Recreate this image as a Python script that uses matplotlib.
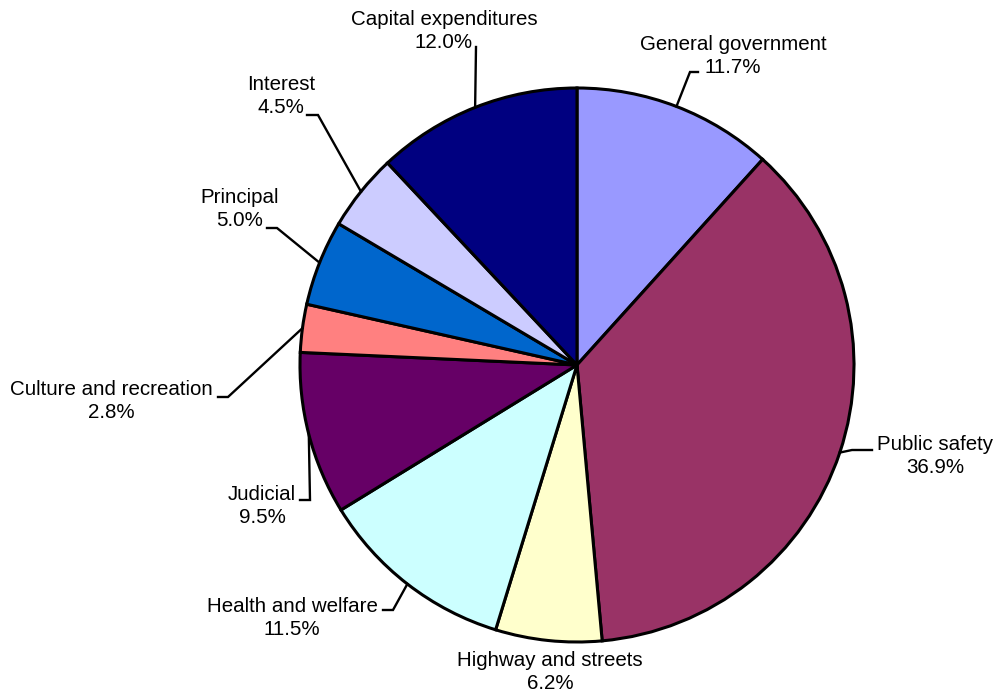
import numpy as np
import matplotlib.pyplot as plt

plt.rcParams['font.family'] = ['Liberation Sans', 'DejaVu Sans']

# Fatias do gráfico (sentido horário a partir do topo)
categorias = ["General government", "Public safety", "Highway and streets",
              "Health and welfare", "Judicial", "Culture and recreation",
              "Principal", "Interest", "Capital expenditures"]
percentuais = [11.7, 36.9, 6.2, 11.5, 9.5, 2.8, 5.0, 4.5, 12.0]
cores = ["#9999FF", "#993366", "#FFFFCC", "#CCFFFF", "#660066",
         "#FF8080", "#0066CC", "#CCCCFF", "#000080"]

# Layout em pixels: centro e raio da pizza
W, H = 995, 695
cx, cy, R = 577, 365, 277

# Posição de cada rótulo (centro do bloco de texto) e cotovelo da linha guia
pos_texto = [(733, 56), (935, 456), (550, 672), (292, 618), (262, 506),
             (111, 401), (240, 209), (281, 96), (444, 31)]
cotovelo = [(690, 72), (852, 450), None, (393, 610), (310, 500),
            (228, 397), (277, 228), (318, 115), (476, 47)]
fim_horizontal = [698, 872, None, 383, 300, 218, 267, 307, 476]


def px(x, y):
    # converte pixel (origem no topo) para coordenadas do eixo
    return (x - cx) / R, (cy - y) / R


fig = plt.figure(figsize=(W / 100, H / 100), dpi=100)
ax = fig.add_axes([0, 0, 1, 1])

wedges, _ = ax.pie(percentuais, colors=cores, startangle=90, counterclock=False,
                   radius=1, wedgeprops=dict(edgecolor="black", linewidth=2.2))

ax.set_xlim(-cx / R, (W - cx) / R)
ax.set_ylim(-(H - cy) / R, cy / R)
ax.set_aspect("equal")
ax.axis("off")

for w, nome, p, t, c, hx in zip(wedges, categorias, percentuais,
                                pos_texto, cotovelo, fim_horizontal):
    ang = np.deg2rad((w.theta1 + w.theta2) / 2)
    bx, by = np.cos(ang), np.sin(ang)
    if c is not None:
        ex, ey = px(*c)
        hxx, _ = px(hx, c[1])
        ax.plot([bx, ex, hxx], [by, ey, ey], color="black", lw=1.7,
                solid_joinstyle="miter", zorder=3)
    tx, ty = px(*t)
    ax.text(tx, ty, f"{nome}\n{p:.1f}%", ha="center", va="center",
            multialignment="center", fontsize=14.8, linespacing=1.25,
            color="black")

fig.savefig("out.png", dpi=100)
